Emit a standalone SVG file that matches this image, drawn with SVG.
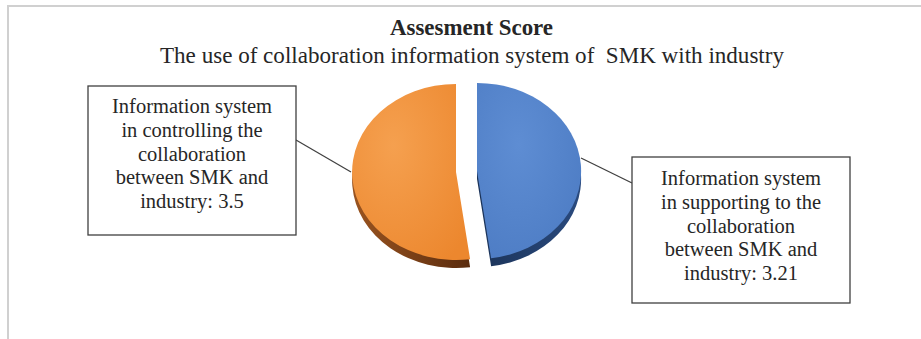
<svg xmlns="http://www.w3.org/2000/svg" width="921" height="339" viewBox="0 0 921 339">
  <style>
    .serif { font-family: "Liberation Serif", "Times New Roman", serif; fill: #262626; }
    .lbl { font-size: 20.5px; text-anchor: middle; }
    .box { fill: #ffffff; stroke: #404040; stroke-width: 1.3; }
    .conn { stroke: #404040; stroke-width: 1.3; fill: none; }
    .frame { stroke: #d0d0d0; stroke-width: 2; fill: none; }
  </style>
  <defs>
    <radialGradient id="gOrange" cx="0.35" cy="0.35" r="0.8">
      <stop offset="0" stop-color="#F5A04F"/>
      <stop offset="1" stop-color="#EC872E"/>
    </radialGradient>
    <radialGradient id="gBlue" cx="0.4" cy="0.35" r="0.8">
      <stop offset="0" stop-color="#5E8DD3"/>
      <stop offset="1" stop-color="#4C7BC3"/>
    </radialGradient>
    <linearGradient id="gOrangeSide" x1="0" y1="0" x2="1" y2="0">
      <stop offset="0" stop-color="#9A5420"/>
      <stop offset="1" stop-color="#5A2C0E"/>
    </linearGradient>
    <linearGradient id="gBlueSide" x1="0" y1="0" x2="1" y2="0">
      <stop offset="0" stop-color="#1B3358"/>
      <stop offset="1" stop-color="#2A4A7E"/>
    </linearGradient>
  </defs>

  <rect width="921" height="339" fill="#ffffff"/>
  <path class="frame" d="M8,340 V6 H922"/>

  <g id="title">
    <text class="serif" x="471.5" y="35" font-size="22.5" font-weight="bold" text-anchor="middle" textLength="163" lengthAdjust="spacingAndGlyphs">Assesment Score</text>
    <text class="serif" x="472" y="63" font-size="22.5" text-anchor="middle" textLength="624" lengthAdjust="spacingAndGlyphs" xml:space="preserve">The use of collaboration information system of  SMK with industry</text>
  </g>

  <g id="connectors">
    <line class="conn" x1="296" y1="140" x2="351" y2="172"/>
    <line class="conn" x1="581" y1="158" x2="632" y2="183"/>
  </g>

  <g id="slice-orange">
    <path d="M456,180 L470.1,267.2 A104,88 0 1 1 456,92 Z" fill="url(#gOrangeSide)"/>
    <path d="M456,172 L470.1,259.2 A104,88 0 1 1 456,84 Z" fill="url(#gOrange)"/>
  </g>
  <g id="slice-blue">
    <path d="M477,179 L477,91 A104,88 0 0 1 491.1,266.2 Z" fill="url(#gBlueSide)"/>
    <path d="M477,171 L477,83 A104,88 0 0 1 491.1,258.2 Z" fill="url(#gBlue)"/>
  </g>

  <g id="label-left">
    <rect class="box" x="88" y="86" width="208" height="149"/>
    <text class="serif lbl" x="192" y="113">Information system</text>
    <text class="serif lbl" x="192" y="137">in controlling the</text>
    <text class="serif lbl" x="192" y="161">collaboration</text>
    <text class="serif lbl" x="192" y="184">between SMK and</text>
    <text class="serif lbl" x="192" y="208">industry: 3.5</text>
  </g>

  <g id="label-right">
    <rect class="box" x="632" y="157" width="218" height="146"/>
    <text class="serif lbl" x="741" y="185">Information system</text>
    <text class="serif lbl" x="741" y="209">in supporting to the</text>
    <text class="serif lbl" x="741" y="233">collaboration</text>
    <text class="serif lbl" x="741" y="256">between SMK and</text>
    <text class="serif lbl" x="741" y="280">industry: 3.21</text>
  </g>
</svg>
